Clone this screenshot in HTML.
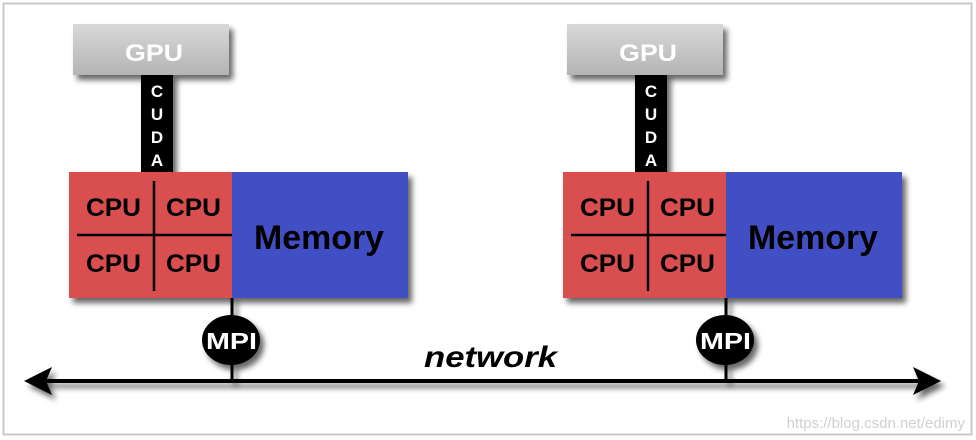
<!DOCTYPE html>
<html><head><meta charset="utf-8"><style>
html,body{margin:0;padding:0;background:#fff;}
body{width:976px;height:440px;overflow:hidden;position:relative;font-family:"Liberation Sans",Arial,sans-serif;}
</style></head><body>
<svg width="976" height="440" viewBox="0 0 976 440" xmlns="http://www.w3.org/2000/svg" style="position:absolute;left:0;top:0">
<defs>
<filter id="sh" x="-20%" y="-20%" width="150%" height="160%"><feGaussianBlur in="SourceAlpha" stdDeviation="3"/><feOffset dx="4" dy="5"/><feComponentTransfer><feFuncA type="linear" slope="0.6"/></feComponentTransfer><feMerge><feMergeNode/><feMergeNode in="SourceGraphic"/></feMerge></filter>
<linearGradient id="gpu" x1="0" y1="0" x2="0" y2="1"><stop offset="0" stop-color="#d8d8d8"/><stop offset="1" stop-color="#b4b4b4"/></linearGradient>
</defs>
<rect x="3.5" y="3.5" width="968" height="431" fill="#fff" stroke="#c8c8c8" stroke-width="2"/>
<g filter="url(#sh)">
<line x1="40" y1="381" x2="925" y2="381" stroke="#000" stroke-width="4"/>
<polygon points="24,381 52,367 46,381 52,395" fill="#000"/>
<polygon points="941,381 913,367 919,381 913,395" fill="#000"/>
</g>
<g id="n1">
<g filter="url(#sh)">
<rect x="73" y="24" width="156" height="51" fill="url(#gpu)"/>
<rect x="141" y="75" width="32" height="97" fill="#000"/>
<rect x="69" y="172" width="163" height="126" fill="#d95050"/>
<rect x="232" y="172" width="176" height="126" fill="#4350c4"/>
<line x1="232" y1="298" x2="232" y2="381" stroke="#000" stroke-width="3"/>
<ellipse cx="231" cy="340" rx="29" ry="25" fill="#000"/>
</g>
<text x="125" y="61" font-size="24" font-weight="bold" fill="#fff" textLength="58" lengthAdjust="spacingAndGlyphs">GPU</text>
<g font-size="17" font-weight="bold" fill="#fff" text-anchor="middle">
<text x="157" y="97">C</text><text x="157" y="120">U</text><text x="157" y="143">D</text><text x="157" y="166">A</text></g>
<line x1="154" y1="181" x2="154" y2="291" stroke="#000" stroke-width="2.5"/>
<line x1="77" y1="235" x2="232" y2="235" stroke="#000" stroke-width="2.5"/>
<g font-size="25" font-weight="bold" fill="#000" lengthAdjust="spacingAndGlyphs">
<text x="86" y="216" textLength="55" lengthAdjust="spacingAndGlyphs">CPU</text><text x="166" y="216" textLength="55" lengthAdjust="spacingAndGlyphs">CPU</text>
<text x="86" y="272" textLength="55" lengthAdjust="spacingAndGlyphs">CPU</text><text x="166" y="272" textLength="55" lengthAdjust="spacingAndGlyphs">CPU</text></g>
<text x="254" y="249" font-size="34" font-weight="bold" fill="#000" textLength="130" lengthAdjust="spacingAndGlyphs">Memory</text>
<text x="206" y="349" font-size="23" font-weight="bold" fill="#fff" textLength="51" lengthAdjust="spacingAndGlyphs">MPI</text>
</g>
<use href="#n1" x="494" y="0"/>
<text x="424" y="367" font-size="30" font-weight="bold" font-style="italic" fill="#000" textLength="133" lengthAdjust="spacingAndGlyphs">network</text>
<text x="965" y="428" font-size="15" fill="#d0d0d0" text-anchor="end">https://blog.csdn.net/edimy</text>
</svg>
</body></html>
